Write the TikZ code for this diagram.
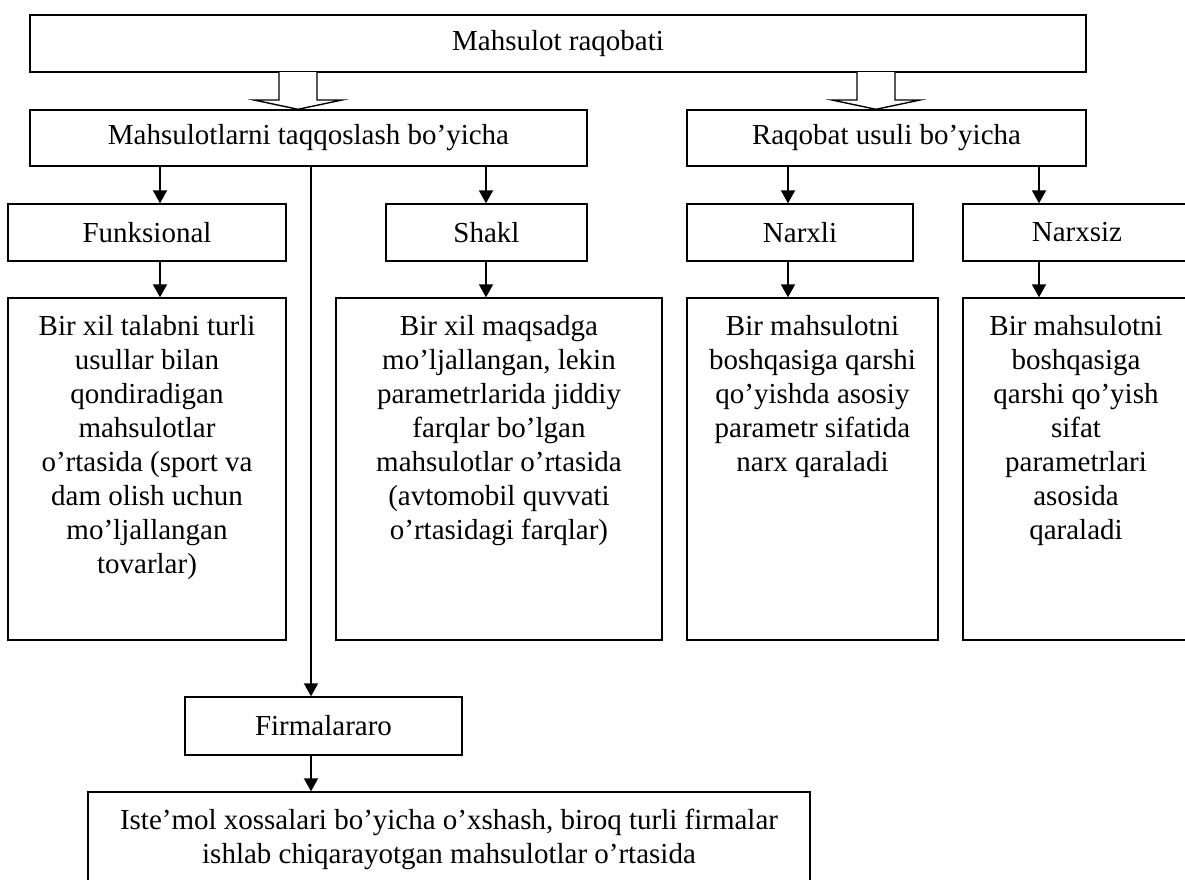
\documentclass[tikz,border=0pt]{standalone}
\usepackage{fontspec}
\setmainfont{Liberation Serif}
\usetikzlibrary{arrows.meta,calc}
\newcommand{\fsz}{\fontsize{29}{34}\selectfont}
\tikzset{
  box/.style={draw, line width=1.4pt, inner sep=0pt, font=\fsz},
  txt/.style={inner sep=0pt, font=\fsz, align=center, anchor=north},
  arr/.style={line width=1.9pt, -{Triangle[width=14pt,length=13pt]}},
  hollow/.style={draw, line width=1.4pt, fill=white, line join=miter}
}
\begin{document}
\begin{tikzpicture}[x=1pt,y=-1pt]
\useasboundingbox (0,0) rectangle (1185,879);
\clip (0,0) rectangle (1185,879);
% level 0
\node[box, minimum width=1056pt, minimum height=57pt] (top) at (558,43.5) {Mahsulot raqobati};
% level 1
\node[box, minimum width=557pt, minimum height=56pt] (l2) at (308.5,138) {Mahsulotlarni taqqoslash bo’yicha};
\node[box, minimum width=399pt, minimum height=56pt] (r2) at (886.5,138) {Raqobat usuli bo’yicha};
% level 2
\node[box, minimum width=278pt, minimum height=57pt] (f1) at (147,232.5) {Funksional};
\node[box, minimum width=201pt, minimum height=57pt] (s1) at (486.5,232.5) {Shakl};
\node[box, minimum width=226pt, minimum height=57pt] (n1) at (800,232.5) {Narxli};
\node[box, minimum width=228pt, minimum height=57pt] (n2) at (1077,232.5) {Narxsiz};
% level 3 boxes
\node[box, minimum width=278pt, minimum height=342pt] (d1) at (147,469) {};
\node[box, minimum width=326pt, minimum height=342pt] (d2) at (499,469) {};
\node[box, minimum width=251pt, minimum height=342pt] (d3) at (812.5,469) {};
\node[box, minimum width=226pt, minimum height=342pt] (d4) at (1076,469) {};
\node[txt] (d1t) at (147,315) {Bir xil talabni turli\\usullar bilan\\qondiradigan\\mahsulotlar\\o’rtasida (sport va\\dam olish uchun\\mo’ljallangan\\tovarlar)};
\node[txt] (d2t) at (499,315) {Bir xil maqsadga\\mo’ljallangan, lekin\\parametrlarida jiddiy\\farqlar bo’lgan\\mahsulotlar o’rtasida\\(avtomobil quvvati\\o’rtasidagi farqlar)};
\node[txt] (d3t) at (812.5,315) {Bir mahsulotni\\boshqasiga qarshi\\qo’yishda asosiy\\parametr sifatida\\narx qaraladi};
\node[txt] (d4t) at (1076,315) {Bir mahsulotni\\boshqasiga\\qarshi qo’yish\\sifat\\parametrlari\\asosida\\qaraladi};
% firmalararo
\node[box, minimum width=277pt, minimum height=58pt] (fi) at (323.5,726) {Firmalararo};
\node[box, minimum width=722pt, minimum height=110pt] (bot) at (449,847) {};
\node[txt] (bott) at (449,809) {Iste’mol xossalari bo’yicha o’xshash, biroq turli firmalar\\ishlab chiqarayotgan mahsulotlar o’rtasida};
% hollow arrows
\coordinate (ha) at (298,72);
\coordinate (hb) at (876,72);
\draw[hollow] ($(ha)+(-19,0)$) -- ++(0,28) -- ++(-25,0) -- ($(ha |- l2.north)$) -- ($(ha)+(44,28)$) -- ++(-25,0) -- ++(0,-28);
\draw[hollow] ($(hb)+(-19,0)$) -- ++(0,28) -- ++(-25,0) -- ($(hb |- r2.north)$) -- ($(hb)+(44,28)$) -- ++(-25,0) -- ++(0,-28);
% arrows
\coordinate (xa) at (160,0);
\coordinate (xb) at (486,0);
\coordinate (xc) at (788,0);
\coordinate (xd) at (1039,0);
\coordinate (xe) at (311,0);
\draw[arr] (xa |- l2.south) -- (xa |- f1.north);
\draw[arr] (xa |- f1.south) -- (xa |- d1.north);
\draw[arr] (xb |- l2.south) -- (xb |- s1.north);
\draw[arr] (xb |- s1.south) -- (xb |- d2.north);
\draw[arr] (xc |- r2.south) -- (xc |- n1.north);
\draw[arr] (xc |- n1.south) -- (xc |- d3.north);
\draw[arr] (xd |- r2.south) -- (xd |- n2.north);
\draw[arr] (xd |- n2.south) -- (xd |- d4.north);
\draw[arr] (xe |- l2.south) -- (xe |- fi.north);
\draw[arr] (xe |- fi.south) -- (xe |- bot.north);
\end{tikzpicture}
\end{document}
